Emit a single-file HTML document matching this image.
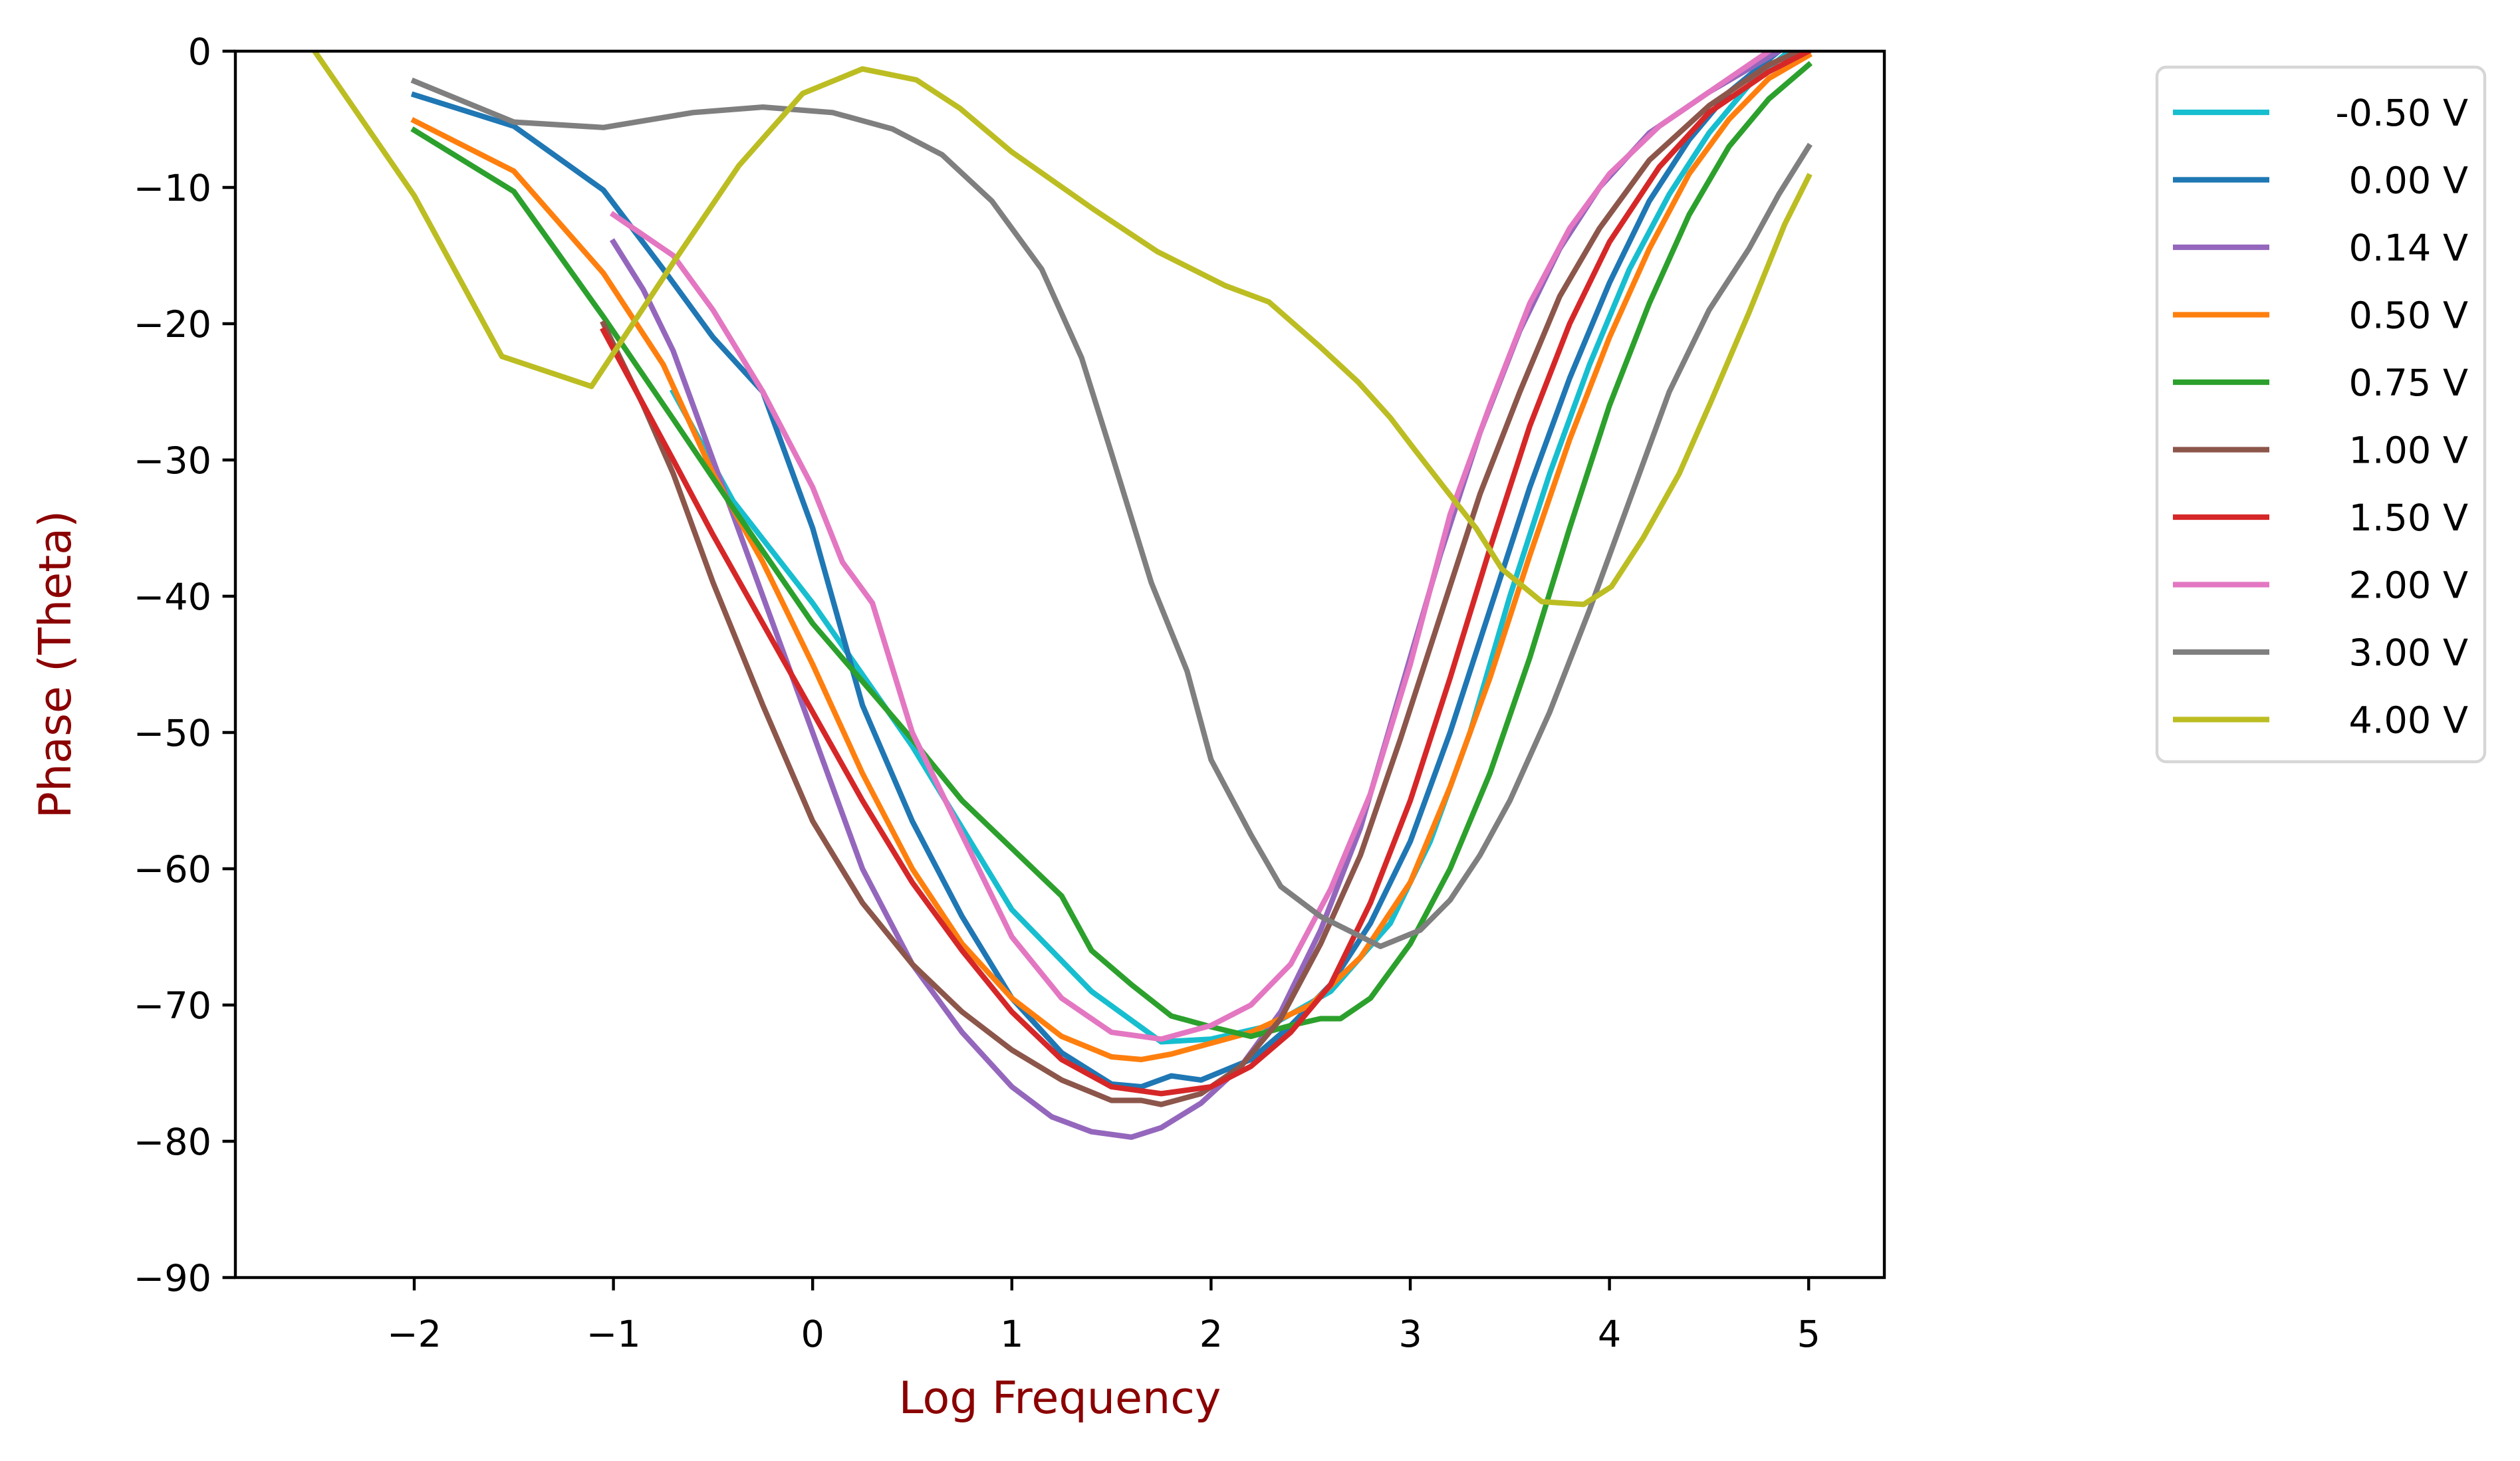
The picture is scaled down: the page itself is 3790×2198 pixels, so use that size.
<!DOCTYPE html>
<html><head><meta charset="utf-8">
<style>
html,body{margin:0;padding:0;background:#fff;}
svg{display:block;font-family:"DejaVu Sans","Liberation Sans",sans-serif;}
</style></head>
<body>
<svg id="chart" width="3790" height="2198" viewBox="0 0 3790 2198" xmlns="http://www.w3.org/2000/svg">
<rect width="3790" height="2198" fill="#fff"/>
</svg>
<script>
const xTicks = [-2,-1,0,1,2,3,4,5];
const yTicks = [0,-10,-20,-30,-40,-50,-60,-70,-80,-90];
const seriesLabels = ['-0.50 V','0.00 V','0.14 V','0.50 V','0.75 V','1.00 V','1.50 V','2.00 V','3.00 V','4.00 V'];
const seriesColors = ['#17becf','#1f77b4','#9467bd','#ff7f0e','#2ca02c','#8c564b','#d62728','#e377c2','#7f7f7f','#bcbd22'];

const xM050 = [-0.7,-0.4,0,0.5,1,1.4,1.75,2,2.3,2.6,2.9,3.1,3.3,3.5,3.7,3.9,4.1,4.3,4.5,4.7,4.9];
const yM050 = [-25,-33,-40.5,-51,-63,-69,-72.7,-72.5,-71.5,-69,-64,-58,-50,-40,-31,-23,-16,-10.5,-6,-2.5,0];
const x000 = [-2,-1.5,-1.05,-0.75,-0.5,-0.25,0,0.25,0.5,0.75,1,1.25,1.5,1.65,1.8,1.95,2.2,2.4,2.6,2.8,3,3.2,3.4,3.6,3.8,4,4.2,4.4,4.6,4.85];
const y000 = [-3.2,-5.5,-10.2,-16,-21,-25,-35,-48,-56.5,-63.5,-69.5,-73.5,-75.8,-76,-75.2,-75.5,-74,-71.5,-68.5,-64,-58,-50,-41,-32,-24,-17,-11,-6.5,-3,0];
const x014 = [-1,-0.85,-0.7,-0.5,-0.25,0,0.25,0.5,0.75,1,1.2,1.4,1.6,1.75,1.95,2.15,2.35,2.55,2.75,2.95,3.15,3.35,3.55,3.75,3.95,4.2,4.5,4.85];
const y014 = [-14,-17.5,-22,-30,-40,-50,-60,-67,-72,-76,-78.2,-79.3,-79.7,-79,-77.2,-74.5,-70.5,-64.5,-57,-47,-37,-28,-20.5,-14.5,-10,-6,-3,0];
const x050 = [-2,-1.5,-1.05,-0.75,-0.5,-0.25,0,0.25,0.5,0.75,1,1.25,1.5,1.65,1.8,2,2.2,2.5,2.75,3,3.2,3.4,3.6,3.8,4,4.2,4.4,4.6,4.8,5];
const y050 = [-5.1,-8.8,-16.3,-23,-31,-37.5,-45,-53,-60,-65.5,-69.5,-72.3,-73.8,-74,-73.6,-72.8,-72,-70,-66.5,-61,-54,-46,-37,-28.5,-21,-14.5,-9,-5,-2,-0.3];
const x075 = [-2,-1.5,-1.05,-0.7,-0.4,0,0.5,0.75,1,1.25,1.4,1.6,1.8,2,2.2,2.4,2.55,2.65,2.8,3,3.2,3.4,3.6,3.8,4,4.2,4.4,4.6,4.8,5];
const y075 = [-5.8,-10.3,-19.5,-27,-33.5,-42,-50.5,-55,-58.5,-62,-66,-68.5,-70.8,-71.6,-72.3,-71.5,-71,-71,-69.5,-65.5,-60,-53,-44.5,-35,-26,-18.5,-12,-7,-3.5,-1];
const x100 = [-1.05,-0.85,-0.7,-0.5,-0.25,0,0.25,0.5,0.75,1,1.25,1.5,1.65,1.75,1.95,2.15,2.35,2.55,2.75,2.95,3.15,3.35,3.55,3.75,3.95,4.2,4.5,4.8,4.95];
const y100 = [-20,-26,-31,-39,-48,-56.5,-62.5,-67,-70.5,-73.3,-75.5,-77,-77,-77.3,-76.5,-74.5,-71,-65.5,-59,-50.5,-41.5,-32.5,-25,-18,-13,-8,-4,-1,0];
const x150 = [-1.05,-0.7,-0.5,-0.25,0,0.25,0.5,0.75,1,1.25,1.5,1.75,2,2.2,2.4,2.6,2.8,3,3.2,3.4,3.6,3.8,4,4.25,4.5,4.8,5];
const y150 = [-20.5,-30,-35.5,-42,-48.5,-55,-61,-66,-70.5,-74,-76,-76.5,-76,-74.5,-72,-68.5,-62.5,-55,-46,-36.5,-27.5,-20,-14,-8.5,-4.5,-1.5,0];
const x200 = [-1,-0.7,-0.5,-0.25,0,0.15,0.3,0.5,0.75,1,1.25,1.5,1.75,2,2.2,2.4,2.6,2.8,3,3.2,3.4,3.6,3.8,4,4.25,4.5,4.8];
const y200 = [-12,-15,-19,-25,-32,-37.5,-40.5,-50,-57.5,-65,-69.5,-72,-72.5,-71.5,-70,-67,-61.5,-54.5,-45,-34,-26,-18.5,-13,-9,-5.5,-3,0];
const x300 = [-2,-1.5,-1.05,-0.6,-0.25,0.1,0.4,0.65,0.9,1.15,1.35,1.5,1.7,1.88,2,2.2,2.35,2.55,2.85,3.05,3.2,3.35,3.5,3.7,3.9,4.1,4.3,4.5,4.7,4.85,5];
const y300 = [-2.2,-5.2,-5.6,-4.5,-4.1,-4.5,-5.7,-7.6,-11,-16,-22.5,-29.5,-39,-45.5,-52,-57.5,-61.3,-63.5,-65.7,-64.5,-62.3,-59,-55,-48.5,-41,-33,-25,-19,-14.5,-10.5,-7];
const x400 = [-2.5,-2,-1.56,-1.11,-0.69,-0.37,-0.05,0.25,0.52,0.74,1,1.41,1.73,2.07,2.29,2.54,2.74,2.9,3.02,3.18,3.33,3.46,3.66,3.87,4.01,4.17,4.35,4.51,4.7,4.88,5];
const y400 = [0,-10.6,-22.4,-24.6,-15.3,-8.4,-3.1,-1.3,-2.1,-4.2,-7.4,-11.6,-14.7,-17.2,-18.4,-21.6,-24.3,-26.9,-29.2,-32.2,-35,-38,-40.4,-40.6,-39.3,-35.7,-31,-25.7,-19.2,-12.7,-9.2];

const seriesX = [xM050,x000,x014,x050,x075,x100,x150,x200,x300,x400];
const seriesY = [yM050,y000,y014,y050,y075,y100,y150,y200,y300,y400];
const seriesNames = ['series-m050v','series-000v','series-014v','series-050v','series-075v','series-100v','series-150v','series-200v','series-300v','series-400v'];

const L=354,R=2834,T=77,B=1922;
const X0=623, XU=299.6; // pixel of x=-2, px per unit
function sx(v){return X0+(v+2)*XU;}
function sy(v){return T+(-v)/90*(B-T);}
const NS='http://www.w3.org/2000/svg';
const svg=document.getElementById('chart');
function mk(tag,attrs,parent){const e=document.createElementNS(NS,tag);for(const k in attrs)e.setAttribute(k,attrs[k]);(parent||svg).appendChild(e);return e;}

const clip=mk('clipPath',{id:'clip'});
mk('rect',{x:L,y:T,width:R-L,height:B-T},clip);

const lines=mk('g',{'clip-path':'url(#clip)'});


for(let i=0;i<seriesX.length;i++){
  const pts=seriesX[i].map((x,j)=>sx(x).toFixed(1)+','+sy(seriesY[i][j]).toFixed(1)).join(' ');
  const pl=mk('polyline',{points:pts,fill:'none',stroke:seriesColors[i],'stroke-width':8.2,'stroke-linejoin':'round','stroke-linecap':'square'},lines);
  
  
}

const frame=mk('rect',{x:L,y:T,width:R-L,height:B-T,fill:'none',stroke:'#000','stroke-width':4.4});



for(const t of xTicks){
  const x=sx(t);
  const tk=mk('line',{x1:x,y1:B,x2:x,y2:B+19.4,stroke:'#000','stroke-width':4.4});
  
  
  const tx=mk('text',{x:x,y:2026,'font-size':55.6,'text-anchor':'middle',fill:'#000'});
  tx.textContent=(t<0?'\u2212'+(-t):String(t));
  
  
}
for(const t of yTicks){
  const y=sy(t);
  const tk=mk('line',{x1:L-19.4,y1:y,x2:L,y2:y,stroke:'#000','stroke-width':4.4});
  
  
  const tx=mk('text',{x:L-36,y:y+20,'font-size':55.6,'text-anchor':'end',fill:'#000'});
  tx.textContent=(t<0?'\u2212'+(-t):String(t));
  
  
}
const xl=mk('text',{x:(L+R)/2,y:2126,'font-size':66.7,'text-anchor':'middle',fill:'#8b0000'});
xl.textContent='Log Frequency';


const yl=mk('text',{x:0,y:0,'font-size':66.7,'text-anchor':'middle',fill:'#8b0000',transform:'translate(106,'+((T+B)/2)+') rotate(-90)'});
yl.textContent='Phase (Theta)';



const lg=mk('g',{});


const lb=mk('rect',{x:3244,y:101,width:493,height:1045,rx:14,fill:'#fff',stroke:'#d6d6d6','stroke-width':4.4},lg);


for(let i=0;i<seriesLabels.length;i++){
  const y=169+i*101.5;
  const ln=mk('line',{x1:3268,y1:y,x2:3413,y2:y,stroke:seriesColors[i],'stroke-width':8.2},lg);
  
  
  const tx=mk('text',{x:3712,y:y+20,'font-size':55.6,'text-anchor':'end',fill:'#000'},lg);
  tx.textContent=seriesLabels[i];
  
  
}
</script>
</body></html>
